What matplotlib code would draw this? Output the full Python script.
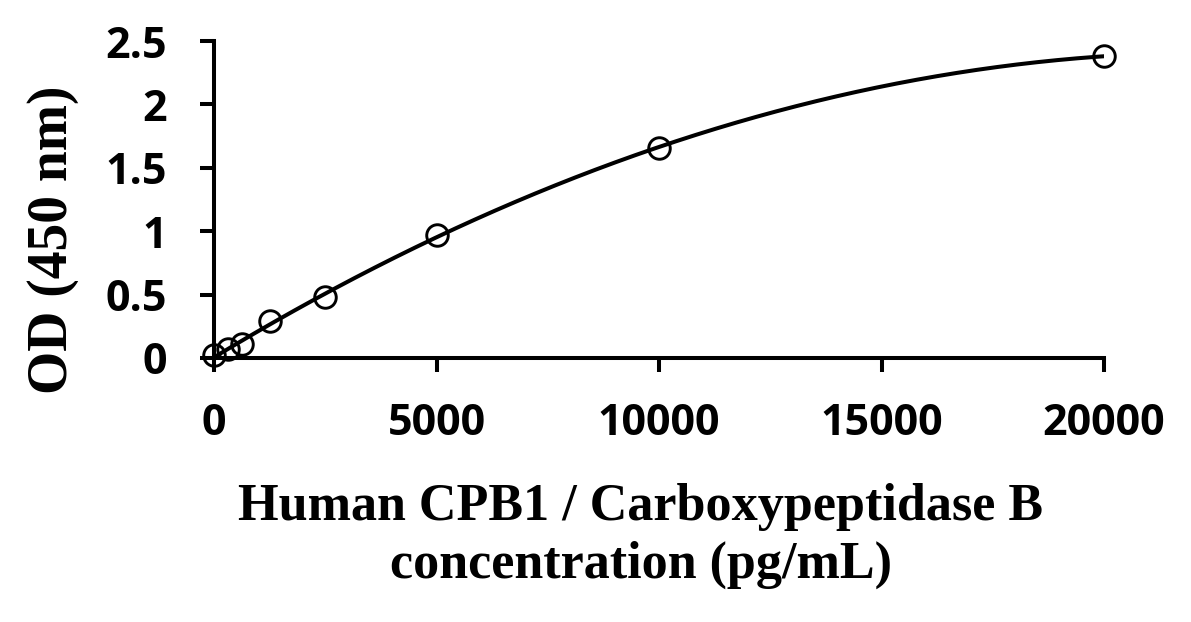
import numpy as np
import matplotlib
matplotlib.use("Agg")
import matplotlib.pyplot as plt

conc = [0, 312.5, 625, 1250, 2500, 5000, 10000, 20000]
od = [0.02, 0.07, 0.11, 0.29, 0.48, 0.97, 1.66, 2.38]
xticks = [0, 5000, 10000, 15000, 20000]
yticks = [0, 0.5, 1, 1.5, 2, 2.5]
ytick_labels = ["0", "0.5", "1", "1.5", "2", "2.5"]

W, H = 1191, 622
fig = plt.figure(figsize=(W/100, H/100), dpi=100)
ax = fig.add_axes([214/W, 1-358/H, (1104-214)/W, (358-41)/H])

coef = np.polyfit(conc, od, 3)
xs = np.linspace(min(conc), max(conc), 400)
ax.plot(xs, np.polyval(coef, xs), color="black", lw=2.9, zorder=2)
ax.plot(conc, od, "o", ms=15.5, mfc="none", mec="black", mew=2.1, zorder=3, clip_on=False)

ax.set_xlim(0, 20000)
ax.set_ylim(0, 2.5)
ax.set_xticks(xticks)
ax.set_xticklabels([str(v) for v in xticks])
ax.set_yticks(yticks)
ax.set_yticklabels(ytick_labels)
for s in ["top", "right"]:
    ax.spines[s].set_visible(False)
for s in ["left", "bottom"]:
    ax.spines[s].set_linewidth(2.9)
ax.tick_params(axis="both", direction="out", length=10, width=2.9)
ax.tick_params(axis="x", pad=22)
ax.tick_params(axis="y", pad=24)
for lab in ax.get_xticklabels() + ax.get_yticklabels():
    lab.set_fontfamily("Open Sans")
    lab.set_fontweight("bold")
    lab.set_fontsize(31)

fig.text(641/W, 1-507/H, "Human CPB1 / Carboxypeptidase B", ha="center", va="center",
         fontfamily="Liberation Serif", fontweight="bold", fontsize=37.5)
fig.text(641/W, 1-565/H, "concentration (pg/mL)", ha="center", va="center",
         fontfamily="Liberation Serif", fontweight="bold", fontsize=37.5)
fig.text(53/W, 1-240/H, "OD (450 nm)", ha="center", va="center", rotation=90,
         fontfamily="Liberation Serif", fontweight="bold", fontsize=40)

fig.savefig("out.png", dpi=100)
